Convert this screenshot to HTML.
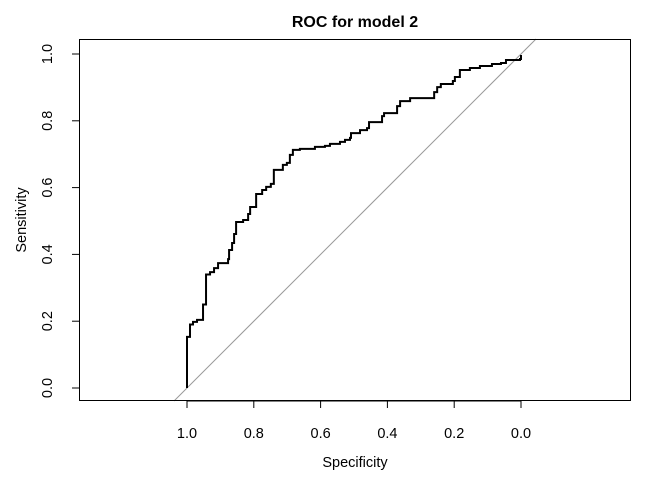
<!DOCTYPE html>
<html><head><meta charset="utf-8"><style>
html,body{margin:0;padding:0;background:#fff;overflow:hidden;width:672px;height:480px}
svg{display:block}
svg text{font-family:"Liberation Sans",Arial,sans-serif;fill:#000}
</style></head><body>
<svg id="chart" width="672" height="480" xmlns="http://www.w3.org/2000/svg">
<text x="355" y="27" text-anchor="middle" font-size="16" font-weight="bold">ROC for model 2</text>
<text x="355" y="467" text-anchor="middle" font-size="14.5">Specificity</text>
<text transform="translate(26,220) rotate(-90)" text-anchor="middle" font-size="14.5">Sensitivity</text>
<g id="plot"></g>
</svg>
<script>
const specificity=[1.0,1.0,0.991,0.982,0.97,0.952,0.943,0.931,0.919,0.907,0.877,0.874,0.865,0.859,0.853,0.832,0.817,0.811,0.793,0.793,0.775,0.763,0.749,0.740,0.713,0.713,0.701,0.692,0.683,0.662,0.617,0.587,0.572,0.542,0.527,0.512,0.509,0.482,0.461,0.455,0.422,0.416,0.410,0.371,0.371,0.362,0.332,0.281,0.260,0.251,0.240,0.204,0.198,0.183,0.153,0.123,0.087,0.060,0.045,0.003,0.0];
const sensitivity=[0.0,0.153,0.19,0.198,0.204,0.25,0.34,0.347,0.359,0.374,0.386,0.413,0.434,0.461,0.497,0.503,0.521,0.542,0.542,0.581,0.593,0.602,0.611,0.653,0.653,0.668,0.674,0.698,0.713,0.716,0.722,0.725,0.731,0.737,0.743,0.749,0.763,0.772,0.778,0.796,0.796,0.814,0.823,0.823,0.844,0.859,0.868,0.868,0.886,0.901,0.910,0.919,0.931,0.952,0.958,0.964,0.970,0.973,0.982,0.985,0.997];
const xTicks=[1.0,0.8,0.6,0.4,0.2,0.0];
const yTicks=[0.0,0.2,0.4,0.6,0.8,1.0];
const NS="http://www.w3.org/2000/svg";
const L=79,R=631,T=39,B=401;
const xs=v=>521-v*334;
const ys=v=>388-v*334;
const g=document.getElementById('plot');
function mk(tag,attrs){const e=document.createElementNS(NS,tag);for(const k in attrs)e.setAttribute(k,attrs[k]);g.appendChild(e);return e;}
const sBot=(388-B)/334, sTop=(388-T)/334;
const diag=mk('line',{x1:xs(1-sBot),y1:ys(sBot),x2:xs(1-sTop),y2:ys(sTop),stroke:'#999','stroke-width':1});


let d='M'+xs(specificity[0])+','+ys(sensitivity[0]);
for(let i=1;i<specificity.length;i++){d+=' H'+xs(specificity[i])+' V'+ys(sensitivity[i]);}
const curve=mk('path',{d:d,fill:'none',stroke:'#000','stroke-width':2,'stroke-linejoin':'miter'});


const box=mk('rect',{x:L+0.5,y:T+0.5,width:R-L-1,height:B-T-1,fill:'none',stroke:'#000','stroke-width':1});


mk('line',{x1:xs(1),y1:B,x2:xs(0),y2:B,stroke:'#000'});
xTicks.forEach(v=>{
  mk('line',{x1:xs(v),y1:B,x2:xs(v),y2:B+7,stroke:'#000'});
  const t=mk('text',{x:xs(v),y:B+37,'text-anchor':'middle','font-size':14.5});t.textContent=v.toFixed(1);
  
  
});
yTicks.forEach(v=>{
  mk('line',{x1:L,y1:ys(v),x2:L-7,y2:ys(v),stroke:'#000'});
  const t=mk('text',{x:0,y:0,'text-anchor':'middle','font-size':14.5,transform:`translate(${L-27},${ys(v)}) rotate(-90)`});t.textContent=v.toFixed(1);
  
  
});
</script>
</body></html>
